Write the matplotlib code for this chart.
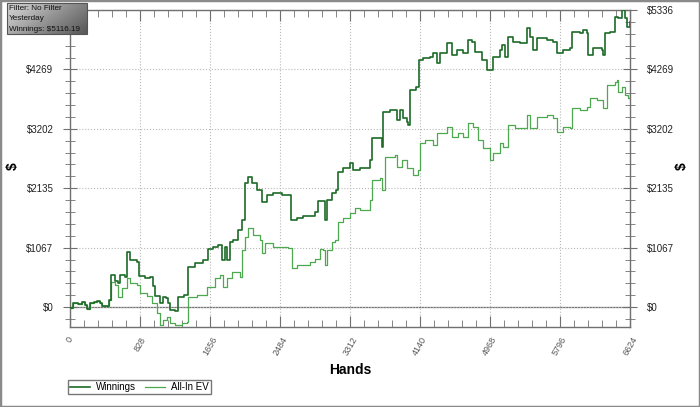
import numpy as np
import matplotlib
matplotlib.use('Agg')
import matplotlib.pyplot as plt
from matplotlib.patches import Rectangle

# cumulative results (hands, dollars)
hands_win = [0, 35, 95, 142, 177, 201, 237, 284, 319, 355,
             379, 438, 461, 485, 532, 568, 591, 651, 674, 710,
             793, 816, 887, 946, 982, 1005, 1065, 1100, 1136, 1159,
             1183, 1242, 1278, 1349, 1396, 1479, 1573, 1632, 1692, 1751,
             1798, 1834, 1857, 1893, 1928, 1987, 2035, 2070, 2106, 2153,
             2212, 2271, 2330, 2401, 2508, 2579, 2614, 2685, 2756, 2839,
             2898, 2934, 2981, 3016, 3040, 3099, 3147, 3170, 3229, 3312,
             3348, 3430, 3513, 3549, 3572, 3667, 3691, 3702, 3785, 3844,
             3868, 3904, 3939, 3986, 3998, 4022, 4093, 4128, 4176, 4258,
             4294, 4341, 4377, 4460, 4519, 4578, 4649, 4708, 4755, 4791,
             4874, 4933, 4968, 5004, 5086, 5110, 5146, 5181, 5240, 5323,
             5406, 5441, 5477, 5524, 5643, 5713, 5761, 5832, 5915, 5938,
             6033, 6068, 6116, 6127, 6187, 6293, 6305, 6329, 6388, 6447,
             6482, 6530, 6565, 6589, 6624]
winnings = [-18, 72, 54, 90, 36, -36, 72, 90, 108, 72,
            18, 18, 126, 575, 467, 431, 575, 539, 988, 844,
            808, 557, 521, 539, 377, 198, 72, 180, 162, 72,
            -54, -72, 180, 216, 719, 790, 844, 1042, 1078, 1114,
            844, 1078, 844, 1168, 1204, 1383, 1563, 2228, 2336, 2228,
            2102, 1886, 2012, 2048, 2012, 2012, 1563, 1599, 1635, 1635,
            1707, 1904, 1904, 1563, 1922, 2048, 2102, 2425, 2497, 2587,
            2461, 2497, 2497, 2641, 3036, 3036, 2875, 3503, 3539, 3539,
            3360, 3539, 3395, 3324, 3270, 3899, 3953, 4438, 4474, 4492,
            4563, 4384, 4563, 4743, 4527, 4617, 4563, 4797, 4761, 4581,
            4438, 4258, 4258, 4492, 4617, 4707, 4492, 4851, 4761, 4743,
            5013, 4851, 4617, 4833, 4797, 4761, 4563, 4617, 4653, 4941,
            4923, 4976, 4923, 4527, 4653, 4617, 4527, 4923, 4941, 5210,
            5192, 5336, 5192, 5030, 5116.19]

hands_ev = [0, 35, 95, 142, 177, 201, 237, 284, 319, 355,
            379, 438, 461, 485, 532, 568, 615, 674, 710, 793,
            828, 911, 970, 1029, 1065, 1100, 1147, 1183, 1242, 1325,
            1384, 1396, 1502, 1621, 1715, 1774, 1810, 1857, 1916, 2011,
            2035, 2070, 2106, 2165, 2248, 2271, 2307, 2401, 2508, 2579,
            2626, 2685, 2756, 2839, 2898, 2957, 2993, 3016, 3040, 3099,
            3135, 3170, 3229, 3312, 3371, 3430, 3513, 3549, 3572, 3667,
            3691, 3726, 3785, 3844, 3868, 3927, 3986, 4057, 4117, 4140,
            4199, 4282, 4294, 4341, 4460, 4519, 4590, 4649, 4708, 4767,
            4826, 4885, 4968, 5004, 5086, 5122, 5181, 5264, 5347, 5406,
            5441, 5524, 5643, 5713, 5761, 5832, 5915, 5938, 6033, 6116,
            6151, 6234, 6293, 6305, 6352, 6447, 6470, 6482, 6530, 6565,
            6601, 6624]
allin_ev = [-18, 72, 54, 90, 36, -36, 72, 90, 108, 72,
            18, 18, 126, 449, 395, 180, 341, 521, 431, 395,
            252, 198, 72, -108, -323, -234, -180, -287, -323, -287,
            -269, 180, 216, 359, 521, 575, 359, 521, 629, 539,
            1024, 1258, 1419, 1294, 1204, 970, 1150, 1078, 1078, 1060,
            701, 754, 754, 808, 862, 1042, 1024, 754, 1024, 1168,
            1204, 1527, 1599, 1689, 1779, 1743, 1743, 1922, 2282, 2318,
            2102, 2695, 2695, 2731, 2515, 2641, 2497, 2372, 2461, 2946,
            3000, 3000, 2911, 3126, 3234, 3054, 3126, 3054, 3306, 3234,
            3000, 2857, 2641, 2767, 2946, 2875, 3270, 3216, 3216, 3450,
            3216, 3414, 3450, 3395, 3144, 3234, 3216, 3575, 3539, 3593,
            3755, 3719, 3719, 3575, 3988, 4042, 4078, 3863, 3953, 3809,
            3755, 3845]

x_ticks = [0, 828, 1656, 2484, 3312, 4140, 4968, 5796, 6624]
y_ticks = [0, 1067, 2135, 3202, 4269, 5336]
y_labels = [r'\$0', r'\$1067', r'\$2135', r'\$3202', r'\$4269', r'\$5336']
info_lines = ['Filter: No Filter', 'Yesterday', r'Winnings: \$5116.19']

plt.rcParams['font.family'] = ['Liberation Sans', 'DejaVu Sans']

fig = plt.figure(figsize=(7, 4.07), dpi=100)
ax = fig.add_axes([70 / 700, 80 / 407, 560 / 700, 317 / 407])

ax.plot(hands_win, winnings, color='#1d6b27', linewidth=1.2,
        drawstyle='steps-post', label='Winnings', zorder=3)
ax.plot(hands_ev, allin_ev, color='#4ea84f', linewidth=0.9,
        drawstyle='steps-post', label='All-In EV', zorder=2)

ax.axhline(0, color='#707070', linewidth=0.9, zorder=1)

ax.set_xlim(0, 6624)
ax.set_ylim(-359, 5336)

ax.xaxis.set_major_locator(plt.FixedLocator(x_ticks))
ax.xaxis.set_minor_locator(plt.MultipleLocator(165.6))
ax.yaxis.set_major_locator(plt.FixedLocator(y_ticks))
ax.yaxis.set_major_formatter(plt.FixedFormatter(y_labels))
ax.yaxis.set_minor_locator(plt.FixedLocator(np.arange(-213.4, 5336, 213.4)))

for s in ax.spines.values():
    s.set_color('#707070')
    s.set_linewidth(1)

ax.tick_params(axis='x', which='both', direction='in', top=True,
               colors='#707070', labelcolor='#555555', labelsize=6.5,
               labelrotation=60, pad=6)
ax.tick_params(axis='x', which='major', length=8)
ax.tick_params(axis='x', which='minor', length=5)
ax.tick_params(axis='y', which='both', direction='inout', right=True,
               labelright=True, colors='#707070', labelcolor='#222222',
               labelsize=7, pad=7)
ax.tick_params(axis='y', which='major', length=10)
ax.tick_params(axis='y', which='minor', length=7)
for lbl in ax.get_xticklabels():
    lbl.set_ha('center')

ax.grid(True, which='major', linestyle=':', color='#b8b8b8', linewidth=0.8)

fig.text(350 / 700, 1 - 370 / 407, 'Hands', ha='center', va='center',
         fontsize=10, fontweight='bold')
fig.text(13 / 700, 1 - 166 / 407, r'\$', rotation=90, ha='center', va='center',
         fontsize=10, fontweight='bold')
fig.text(682 / 700, 1 - 166 / 407, r'\$', rotation=90, ha='center', va='center',
         fontsize=10, fontweight='bold')

fig.legend(loc='lower left', bbox_to_anchor=(68 / 700, 13 / 407), ncol=2,
           fontsize=7, frameon=True, fancybox=False, edgecolor='#555555',
           handlelength=2.1, columnspacing=0.9, borderpad=0.2,
           handletextpad=0.6, borderaxespad=0)

# info box with grey gradient, drawn straight onto the figure
grad = np.linspace(0, 1, 80)[None, :] + np.linspace(0, 0.5, 31)[:, None]
fig.figimage(grad, xo=7, yo=407 - 34, cmap='Greys', vmin=-0.9, vmax=2.4,
             origin='upper', zorder=5)
fig.patches.append(Rectangle((7 / 700, 1 - 34 / 407), 80 / 700, 31 / 407,
                             transform=fig.transFigure, fill=False,
                             edgecolor='#555555', linewidth=0.8, zorder=6))
for i, line in enumerate(info_lines):
    fig.text(9 / 700, 1 - (8.5 + i * 10.3) / 407, line, fontsize=5.9,
             color='#111111', va='center', ha='left', zorder=7)

fig.patches.append(Rectangle((0, 0), 1, 1, transform=fig.transFigure,
                             fill=False, edgecolor='#8a8a8a', linewidth=2.5))

fig.savefig('out.png', dpi=100)
